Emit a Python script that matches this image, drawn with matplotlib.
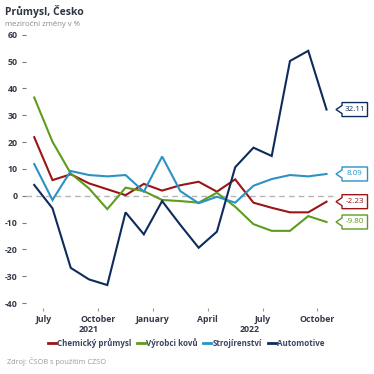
import matplotlib
matplotlib.use("Agg")
import matplotlib.pyplot as plt
from matplotlib.patches import Polygon
from matplotlib.lines import Line2D

plt.rcParams['font.family'] = ['Open Sans', 'DejaVu Sans']

months = list(range(17))  # Jul 2021 .. Nov 2022
chem = [21.8, 5.8, 8.0, 4.6, 2.4, 0.2, 4.4, 1.9, 3.9, 5.2, 1.5, 6.1, -2.6, -4.5, -6.2, -6.2, -2.23]
kovy = [36.6, 20.1, 8.3, 2.7, -5.0, 3.0, 1.7, -1.6, -2.0, -2.6, 1.1, -4.1, -10.6, -13.1, -13.1, -7.6, -9.80]
stroj = [11.8, -1.6, 9.2, 7.7, 7.2, 7.7, 1.5, 14.6, 1.7, -2.8, -0.4, -2.6, 3.7, 6.2, 7.7, 7.2, 8.09]
auto = [4.0, -4.7, -26.9, -31.2, -33.3, -6.2, -14.4, -2.0, -10.9, -19.4, -13.4, 10.6, 17.9, 14.8, 50.2, 54.0, 32.11]

series_names = ["Chemický průmysl", "Výrobci kovů", "Strojírenství", "Automotive"]
series_vals = [chem, kovy, stroj, auto]
colors = ["#9a1515", "#5e9c1e", "#2b92c5", "#0d2b5b"]

tick_pos = [0.5, 3.5, 6.5, 9.5, 12.5, 15.5]
tick_labels = ["July", "October", "January", "April", "July", "October"]
year_labels = ["2021", "2022"]
year_pos = [3.0, 11.8]
yticks = [60, 50, 40, 30, 20, 10, 0, -10, -20, -30, -40]

W = H = 374
fig = plt.figure(figsize=(3.74, 3.74), dpi=100)
ax = fig.add_axes([26 / W, (374 - 308.4) / H, 306 / W, (308.4 - 34.7) / H])
ax.set_xlim(-0.45, 16.3)
ax.set_ylim(-42, 60)
for s in ax.spines.values():
    s.set_visible(False)

ax.axhline(0, color="#b5b5b5", lw=1.0, ls=(0, (4, 3)), zorder=1, xmax=1.01, clip_on=False)

for name, vals, c in zip(series_names, series_vals, colors):
    ax.plot(months, vals, color=c, lw=1.5, label=name, zorder=3, solid_joinstyle='miter')

ax.set_yticks(yticks)
ax.set_yticklabels([str(v) for v in yticks], fontsize=6.3, color="#333a4a", fontweight="bold")
ax.tick_params(axis='y', length=3, width=0.8, color="#777777", pad=3)
ax.set_xticks(tick_pos)
ax.set_xticklabels(tick_labels, fontsize=6.3, color="#333a4a", fontweight="bold")
ax.tick_params(axis='x', length=2.5, width=0.8, color="#999999", pad=2)

ax_h = 308.4 - 34.7
for lab, xp in zip(year_labels, year_pos):
    ax.text(xp, -(330 - 308.4) / ax_h, lab, transform=ax.get_xaxis_transform(), ha="center",
            va="center", fontsize=6.3, color="#333a4a", fontweight="bold")

# callout labels
fig.canvas.draw()
inv = fig.transFigure.inverted()
for vals, c in zip(series_vals, colors):
    v = vals[-1]
    px, py = ax.transData.transform((months[-1], v))
    tipx = 336.0
    bl = 342.0
    br = 367.5
    hh = 7.0
    pts = [(tipx, py), (bl, py + 4), (bl, py + hh), (br, py + hh), (br, py - hh),
           (bl, py - hh), (bl, py - 4)]
    fpts = [inv.transform((x, y)) for x, y in pts]
    poly = Polygon(fpts, closed=True, transform=fig.transFigure, facecolor="white",
                   edgecolor=c, lw=1.0, zorder=5)
    fig.add_artist(poly)
    fx, fy = inv.transform(((bl + br) / 2, py))
    fig.text(fx, fy, f"{v:.2f}", ha="center", va="center", fontsize=5.8, color=c, zorder=6)

fig.text(5 / W, 1 - 12 / H, "Průmysl, Česko", fontsize=7.5, fontweight="bold",
         color="#2f3542", ha="left", va="center")
fig.text(5 / W, 1 - 24 / H, "meziroční změny v %", fontsize=5.6, color="#8a8a8a",
         ha="left", va="center")
fig.text(7 / W, 1 - 361 / H, "Zdroj: ČSOB s použitím CZSO", fontsize=5.3, color="#9a9a9a",
         ha="left", va="center")

handles = [Line2D([0], [0], color=c, lw=2) for c in colors]
fig.legend(handles, series_names, loc="center", bbox_to_anchor=(186 / W, 1 - 343 / H),
           ncol=4, frameon=False, handlelength=1.0, handletextpad=0.15,
           columnspacing=0.7, labelcolor="#3a4560", prop={'weight': 'bold', 'size': 5.8})

fig.savefig("out.png", dpi=100)
